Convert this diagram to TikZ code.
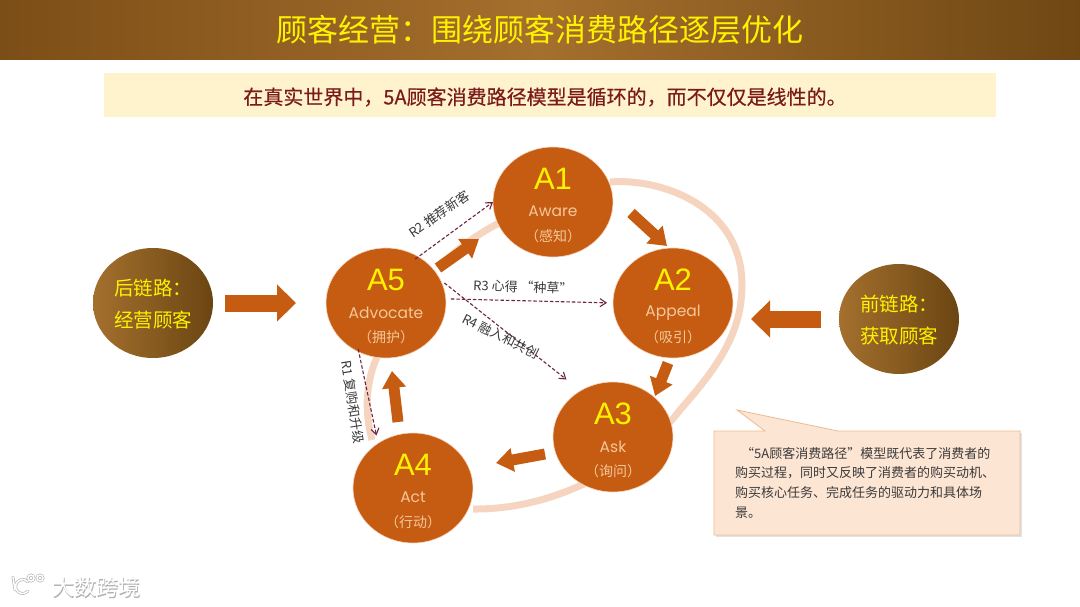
\documentclass[tikz,border=0pt]{standalone}
\usepackage{fontspec}
\usepackage{xcolor}
\setmainfont{Noto Sans CJK SC}
\newfontfamily\arialf{Liberation Sans}
\newfontfamily\geof{Poppins}
\newfontfamily\subf[FakeBold=0.4]{Noto Sans CJK SC}
\usetikzlibrary{shapes.geometric,arrows.meta,calc}
\definecolor{orangeC}{HTML}{C55C11}
\definecolor{ringC}{HTML}{F6D5C0}
\definecolor{peachT}{HTML}{F6C79A}
\definecolor{yelT}{HTML}{FFF200}
\definecolor{dashC}{HTML}{6E2440}
\definecolor{labelC}{HTML}{3A3A3A}
\definecolor{chainL}{HTML}{A4702E}
\definecolor{chainR}{HTML}{6B4512}
\definecolor{bandL}{HTML}{7C4E17}
\definecolor{bandM}{HTML}{A56F2D}
\definecolor{bandR}{HTML}{6F4713}
\definecolor{subBg}{HTML}{FFF3CE}
\definecolor{subT}{HTML}{7B1A1A}
\definecolor{noteBg}{HTML}{FDE5D3}
\definecolor{noteLn}{HTML}{EDBB90}
\tikzset{
  stagecircle/.style={ellipse,fill=orangeC,draw=ringC,line width=0.6pt,minimum width=120pt,minimum height=110pt,inner sep=0pt,outer sep=0pt},
  chaincircle/.style={ellipse,draw=none,left color=chainL,right color=chainR,minimum width=120pt,minimum height=110pt,inner sep=0pt,outer sep=0pt},
  bigA/.style={text=yelT,font=\arialf\fontsize{31}{31}\selectfont},
  enT/.style={text=peachT,font=\geof\fontsize{15.5}{16}\selectfont},
  cnT/.style={text=peachT,font=\fontsize{14}{15}\selectfont},
  chainT/.style={text=yelT,font=\fontsize{19.5}{32}\selectfont,align=left},
  bigarrow/.style={draw=orangeC,line width=17pt,-{Triangle[length=19pt,width=36pt]}},
  midarrow/.style={draw=orangeC,line width=11pt,-{Triangle[length=17pt,width=23pt]}},
  ringline/.style={draw=ringC,line width=7pt},
  refline/.style={draw=dashC,line width=1.1pt,dash pattern=on 3.5pt off 2pt,-{Straight Barb[length=6pt,width=8pt]}},
  reflabel/.style={text=labelC,font=\fontsize{13}{13}\selectfont,inner sep=0pt},
  note/.style={text=labelC,font=\fontsize{13}{19.6}\selectfont,align=left,inner sep=0pt,anchor=north west},
  logostroke/.style={line cap=round},
}
\newcommand{\stagenode}[6]{%
  \node[stagecircle] (#1) at (#2,#3) {};
  \node[bigA] (#1t) at ($(#1)+(0,-23)$) {#4};
  \node[enT] (#1e) at ($(#1)+(0,9.5)$) {#5};
  \node[cnT] (#1c) at ($(#1)+(0,34)$) {#6};
}
\newcommand{\logoshape}{%
  \draw (13,577) -- (15,590);
  \draw (28,591) arc (40:320:7);
  \draw (31,578) circle (3);
  \draw (40,578) circle (3);
}
\begin{document}
\begin{tikzpicture}[x=1pt,y=-1pt]
\useasboundingbox (0,0) rectangle (1080,607);
\fill[white] (0,0) rectangle (1080,607);
% title band
\shade[left color=bandL,right color=bandR,middle color=bandM] (0,0) rectangle (1080,60);
\node[text=yelT,font=\fontsize{31}{31}\selectfont,inner sep=0pt] (title) at (540,30) {顾客经营：围绕顾客消费路径逐层优化};
% subtitle
\fill[fill=subBg] (104,73) rectangle (996,117);
\node[text=subT,font=\subf\fontsize{20}{20}\selectfont,inner sep=0pt] (sub) at (545,97) {在真实世界中，5A顾客消费路径模型是循环的，而不仅仅是线性的。};
% ring
\draw[ringline] (610,182) .. controls (660,178) and (742,205) .. (742,285) .. controls (742,335) and (715,370) .. (680,410) .. controls (650,450) and (570,510) .. (473,509);
\draw[ringline] (378,355) .. controls (366,380) and (364,410) .. (372,440);
\draw[ringline] (438,268) .. controls (455,250) and (480,232) .. (505,220);
% stages
\stagenode{A1}{553}{202}{A1}{Aware}{（感知）}
\stagenode{A5}{386}{303}{A5}{Advocate}{（拥护）}
\stagenode{A2}{673}{303}{A2}{Appeal}{（吸引）}
\stagenode{A3}{613}{437}{A3}{Ask}{（询问）}
\stagenode{A4}{413}{488}{A4}{Act}{（行动）}
% chain circles
\node[chaincircle] (back) at (153,303) {};
\node[chainT] (backt) at (153,304) {后链路：\\经营顾客};
\node[chaincircle] (front) at (899,319) {};
\node[chainT] (frontt) at (899,320) {前链路：\\获取顾客};
% big arrows
\coordinate (la) at (225,303); \coordinate (lb) at (296,303);
\coordinate (ra) at (821,319); \coordinate (rb) at (751,319);
\draw[bigarrow] (la) -- (lb);
\draw[bigarrow] (ra) -- (rb);
\coordinate (a51s) at (438,268); \coordinate (a51e) at (479,239);
\coordinate (a12s) at (631,213); \coordinate (a12e) at (667,246);
\coordinate (a23s) at (668,363); \coordinate (a23e) at (655,396);
\coordinate (a34s) at (545,454); \coordinate (a34e) at (496,463);
\coordinate (a45s) at (398,422); \coordinate (a45e) at (392,371);
\draw[midarrow] (a51s) -- (a51e);
\draw[midarrow] (a12s) -- (a12e);
\draw[midarrow] (a23s) -- (a23e);
\draw[midarrow] (a34s) -- (a34e);
\draw[midarrow] (a45s) -- (a45e);
% dashed relations
\draw[refline,shorten <=-4pt] (A5.55) -- (A1.180);
\draw[refline,shorten <=5pt,shorten >=6pt] (A5.4) -- (A2.180);
\draw[refline,shorten <=5pt,shorten >=18pt] (A5.23) -- (A3.125);
\draw[refline,shorten <=-3pt,shorten >=8pt] (A5.241) -- (A4.128);
\node[reflabel,rotate=35] (r2) at (439,214) {R2 推荐新客};
\node[reflabel,rotate=-2] (r3) at (523,287) {R3 心得 “种草”};
\node[reflabel,rotate=-26] (r4) at (501,336) {R4 融入和共创};
\node[reflabel,rotate=-81] (r1) at (353,402) {R1 复购和升级};
% callout
\fill[black!11] (716,433) rectangle (1022,537);
\draw[fill=noteBg,draw=noteLn,line width=0.8pt,line join=miter] (714,431) -- (765,431) -- (737,410) -- (838,431) -- (1020,431) -- (1020,535) -- (714,535) -- cycle;
\node[note] (notet) at (735,447) {\hspace{6pt}“5A顾客消费路径”模型既代表了消费者的\\购买过程，同时又反映了消费者的购买动机、\\购买核心任务、完成任务的驱动力和具体场\\景。};
% watermark
\begin{scope}[draw=black!30,line width=2.8pt,logostroke]
\logoshape
\end{scope}
\begin{scope}[draw=white,line width=1.5pt,logostroke]
\logoshape
\end{scope}
\node[text=black!30,font=\subf\fontsize{22}{22}\selectfont,inner sep=0pt] at (96.7,588) {大数跨境};
\node[text=white,font=\fontsize{22}{22}\selectfont,inner sep=0pt] (wm) at (96.5,587.5) {大数跨境};
\end{tikzpicture}
\end{document}
